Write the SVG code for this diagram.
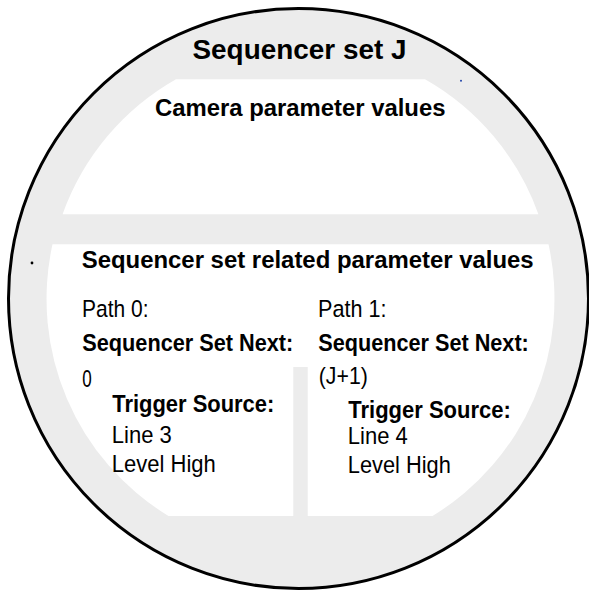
<svg xmlns="http://www.w3.org/2000/svg" width="589" height="591" viewBox="0 0 589 591">
<style>
text{font-family:"Liberation Sans",Arial,sans-serif;fill:#000}
.b{font-weight:bold}
.h{font-size:23.5px}
.c{font-size:24.5px}
.gray{fill:#ececec}
.white{fill:#fff}
</style>
<rect width="589" height="591" fill="#fff"/>
<g id="sequencer-set">
<circle cx="298.5" cy="298.5" r="290" class="gray" stroke="#000" stroke-width="3"/>
<text class="b" x="192.5" y="59.3" font-size="28" textLength="214" lengthAdjust="spacingAndGlyphs">Sequencer set J</text>
<circle cx="461" cy="80.7" r="1" fill="#2244aa"/>
<circle cx="32" cy="263" r="1.4" fill="#000"/>
</g>
<g id="camera-parameters">
<path class="white" d="M176,79.3 L425,79.3 A252.5,252.5 0 0 1 538.4,214.3 L62.6,214.3 A252.5,252.5 0 0 1 176,79.3 Z"/>
<text class="b h" x="155" y="116" textLength="290.5" lengthAdjust="spacingAndGlyphs">Camera parameter values</text>
</g>
<g id="related-parameters">
<path class="white" d="M52.5,244.3 L548.5,244.3 A254,254 0 0 1 432.5,516 L168.5,516 A254,254 0 0 1 52.5,244.3 Z"/>
<rect class="gray" x="293.3" y="367" width="14.4" height="150"/>
<text class="b h" x="81.7" y="268.3" textLength="452" lengthAdjust="spacingAndGlyphs">Sequencer set related parameter values</text>
</g>
<g id="path-0">
<text class="c" x="82" y="317.3" textLength="66.5" lengthAdjust="spacingAndGlyphs">Path 0:</text>
<text class="b c" x="82.3" y="351" textLength="211" lengthAdjust="spacingAndGlyphs">Sequencer Set Next:</text>
<text class="c" x="82.3" y="386.7" textLength="9.5" lengthAdjust="spacingAndGlyphs">0</text>
<text class="b c" x="112.3" y="411.7" textLength="162" lengthAdjust="spacingAndGlyphs">Trigger Source:</text>
<text class="c" x="111.8" y="443.3" textLength="60" lengthAdjust="spacingAndGlyphs">Line 3</text>
<text class="c" x="111.8" y="471.7" textLength="104" lengthAdjust="spacingAndGlyphs">Level High</text>
</g>
<g id="path-1">
<text class="c" x="318" y="317.3" textLength="68.5" lengthAdjust="spacingAndGlyphs">Path 1:</text>
<text class="b c" x="318.3" y="351" textLength="210.5" lengthAdjust="spacingAndGlyphs">Sequencer Set Next:</text>
<text class="c" x="318.8" y="384" textLength="49" lengthAdjust="spacingAndGlyphs">(J+1)</text>
<text class="b c" x="348.3" y="418.3" textLength="162.5" lengthAdjust="spacingAndGlyphs">Trigger Source:</text>
<text class="c" x="347.8" y="444" textLength="60" lengthAdjust="spacingAndGlyphs">Line 4</text>
<text class="c" x="347.8" y="472.7" textLength="103" lengthAdjust="spacingAndGlyphs">Level High</text>
</g>
<g id="connectors"/>
</svg>
